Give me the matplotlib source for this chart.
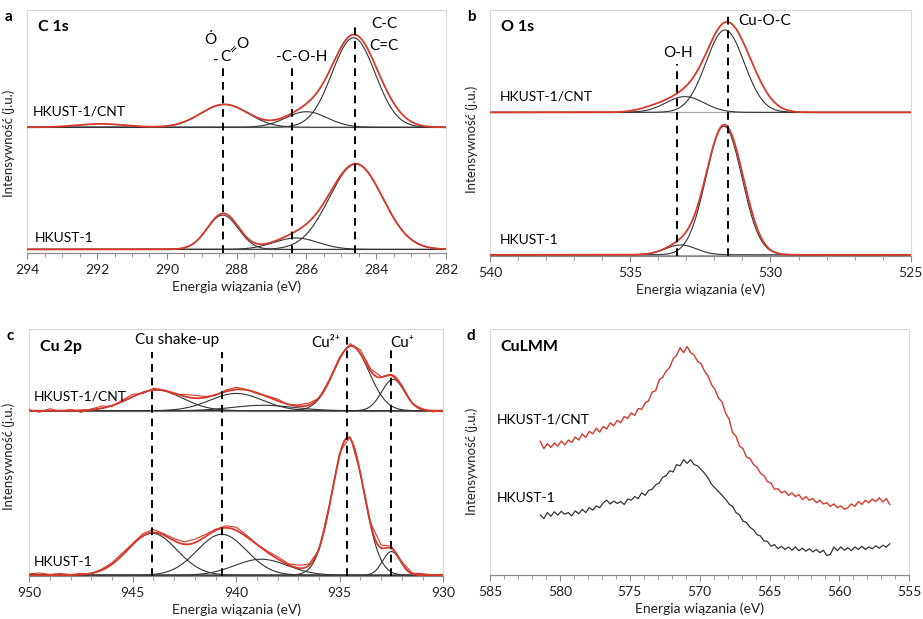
import numpy as np
import matplotlib.pyplot as plt
from matplotlib.ticker import MultipleLocator

plt.rcParams['font.family'] = ['Lato', 'DejaVu Sans']

RED = '#d8392b'
FIT = '#333333'
GRAY = '#a6a6a6'

# ---- panel a: C 1s  (peaks: centre eV, height, FWHM) ----
c1s_cnt_base = 51.8
c1s_cnt_peaks = [(288.35, 9.4, 1.6), (286.0, 6.4, 1.4), (284.65, 36.8, 1.45)]
c1s_cnt_extra = [(291.9, 1.4, 1.6), (283.75, 4.0, 1.2)]
c1s_hk_base = 1.6
c1s_hk_peaks = [(288.4, 14.1, 1.05), (286.3, 4.7, 1.5), (284.58, 35.1, 1.8)]
c1s_hk_extra = [(288.2, 0.8, 0.8)]
c1s_lines = [(288.4, 76.0), (286.4, 76.0), (284.6, 94.2)]

# ---- panel b: O 1s ----
o1s_cnt_base = 58.4
o1s_cnt_peaks = [(533.05, 6.4, 1.6), (531.62, 33.5, 1.6)]
o1s_cnt_extra = [(530.7, 8.0, 1.4), (534.2, 1.5, 1.3)]
o1s_hk_base = 0.5
o1s_hk_peaks = [(533.2, 4.0, 1.3), (531.66, 52.3, 1.5)]
o1s_hk_extra = [(530.9, 2.5, 1.0)]
o1s_lines = [(533.33, 78.0), (531.53, 97.6)]

# ---- panel c: Cu 2p ----
cu_cnt_base = 67.0
cu_cnt_peaks = [(943.87, 8.4, 3.0), (940.0, 7.0, 3.0), (938.7, 2.2, 3.5),
                (934.44, 26.2, 2.0), (932.42, 12.7, 1.3)]
cu_hk_base = 0.3
cu_hk_peaks = [(944.06, 17.0, 2.8), (940.7, 16.6, 2.8), (938.8, 6.5, 3.0),
               (934.6, 55.9, 1.8), (932.5, 9.6, 1.0)]
cu_lines = [(944.06, 90.9), (940.68, 90.9), (934.65, 98.4), (932.5, 91.6)]
# measured minus fit, on a 0.5 eV grid 950 -> 930
cu_grid = np.arange(950.0, 929.9, -0.5)
cu_cnt_resid = [0.4, -0.6, 0.8, -0.3, 0.5, -0.8, 0.3, 0.9, -0.4, 0.6,
                1.0, -0.5, 0.7, 0.2, -0.6, 0.8, 1.1, 0.4, -0.3, 0.6,
                0.9, 0.2, -0.4, 0.3, 0.7, -0.2, 0.5, 0.8, -0.3, 0.4,
                0.6, 1.0, 1.5, 0.8, 0.3, -0.2, 0.5, -0.4, 0.3, -0.5, 0.2]
cu_hk_resid = [0.6, 0.9, 0.3, 0.7, 0.2, 0.5, -0.2, 0.4, 0.6, 0.8,
               0.5, 0.9, 1.2, 0.6, 0.8, 1.0, 1.4, 0.9, 0.5, 0.8,
               1.3, 0.7, 0.2, 0.5, 0.9, 0.4, 1.1, 0.6, -0.8, 0.4,
               1.0, 0.8, 0.4, 0.6, 1.2, 0.9, 0.5, 0.3, 0.6, 0.2, 0.4]

# ---- panel d: Cu LMM ----
lmm_energy = np.arange(581.4, 556.3, -0.25)
lmm_cnt = [54.5, 51.5, 53.5, 52.0, 53.8, 52.5, 54.6, 53.0, 55.0, 54.0,
           56.2, 55.0, 57.5, 56.0, 58.5, 57.5, 59.8, 58.2, 60.5, 59.5,
           62.0, 60.8, 63.0, 62.0, 64.5, 63.8, 66.0, 65.0, 67.8, 67.5,
           70.0, 71.0, 74.5, 75.0, 79.5, 80.5, 83.0, 84.5, 88.0, 89.5,
           92.5, 90.5, 93.0, 90.5, 89.5, 87.0, 86.0, 83.0, 81.0, 77.5,
           75.5, 72.0, 70.5, 66.0, 63.5, 58.0, 56.5, 52.5, 51.5, 48.0,
           47.5, 45.0, 44.0, 41.5, 40.5, 38.0, 37.5, 35.0, 35.2, 33.5,
           34.2, 32.5, 33.5, 32.0, 32.8, 30.8, 32.0, 30.5, 31.2, 29.5,
           30.5, 29.0, 29.5, 28.0, 29.0, 27.5, 28.2, 26.8, 27.5, 29.0,
           28.0, 30.0, 28.8, 30.5, 29.5, 31.0, 30.0, 31.5, 29.8, 31.2, 28.8]
lmm_hk = [24.5, 23.0, 25.5, 24.0, 25.8, 24.5, 26.0, 24.8, 25.5, 24.2,
          26.2, 25.0, 26.8, 25.5, 27.5, 26.5, 28.2, 27.5, 29.5, 30.5,
          29.0, 30.2, 29.2, 30.0, 28.8, 31.0, 30.5, 32.0, 31.2, 33.5,
          32.5, 34.5, 35.0, 36.8, 37.5, 39.8, 40.5, 42.5, 42.0, 45.0,
          44.5, 47.0, 45.5, 47.0, 45.0, 44.5, 43.0, 41.5, 39.5, 37.0,
          35.5, 34.0, 32.5, 31.0, 29.0, 28.0, 25.5, 24.5, 22.0, 21.5,
          19.5, 18.5, 16.5, 16.0, 14.0, 13.8, 11.8, 12.5, 10.8, 11.8,
          10.5, 11.5, 10.2, 11.5, 10.0, 11.0, 9.8, 10.8, 9.5, 10.5,
          9.2, 10.2, 8.0, 8.5, 11.5, 10.0, 11.5, 10.2, 11.2, 10.0,
          11.5, 10.5, 11.8, 10.5, 11.5, 10.8, 12.0, 11.0, 12.2, 11.5, 12.8]


def gauss(x, c, h, w):
    return h * np.exp(-4 * np.log(2) * (x - c) ** 2 / w ** 2)


def spectrum(ax, x, base, peaks, extra=(), data=None):
    ax.axhline(base, color=GRAY, lw=0.9, zorder=1)
    env = np.full_like(x, base)
    for c, h, w in peaks:
        y = gauss(x, c, h, w)
        env += y
        ax.plot(x, base + y, color=FIT, lw=0.8, zorder=2)
    for c, h, w in extra:
        env += gauss(x, c, h, w)
    ax.plot(x, env, color=RED, lw=1.3, zorder=3)
    if data is not None:
        xd, resid = data
        yd = np.full_like(xd, base)
        for c, h, w in peaks:
            yd += gauss(xd, c, h, w)
        ax.plot(xd, yd + np.array(resid), color=RED, lw=0.8, zorder=3)


def style(ax, xlim, major, minor, letter, title):
    ax.set_xlim(*xlim)
    ax.set_ylim(0, 100)
    ax.set_yticks([])
    for s in ['top', 'right', 'left']:
        ax.spines[s].set_color('#d9d9d9')
        ax.spines[s].set_linewidth(0.8)
    ax.spines['bottom'].set_color('#8c8c8c')
    ax.spines['bottom'].set_linewidth(0.9)
    ax.xaxis.set_major_locator(MultipleLocator(major))
    ax.xaxis.set_minor_locator(MultipleLocator(minor))
    ax.tick_params(axis='x', which='both', direction='out', color='#8c8c8c',
                   labelsize=10, pad=4, colors='#8c8c8c', labelcolor='#222222')
    ax.tick_params(axis='x', which='major', length=4)
    ax.tick_params(axis='x', which='minor', length=3)
    ax.set_xlabel('Energia wiązania (eV)', fontsize=10, labelpad=3, color='#222222')
    ax.set_ylabel('Intensywność (j.u.)', fontsize=9.5, color='#222222')
    ax.text(-0.045, 1.0, letter, transform=ax.transAxes, fontsize=11,
            fontweight='bold', ha='center', va='top')
    ax.text(0.025, 0.93, title, transform=ax.transAxes, fontsize=11.5,
            fontweight='bold', va='center')


def vlines(ax, lines):
    for x, top in lines:
        ax.plot([x, x], [0, top], color='black', lw=1.4, ls=(0, (4, 3)), zorder=4)


fig = plt.figure(figsize=(9.23, 6.19), dpi=100)
ax_a = fig.add_axes([0.0296, 0.5908, 0.4536, 0.393])
ax_b = fig.add_axes([0.5309, 0.5864, 0.4558, 0.3974])
ax_c = fig.add_axes([0.0317, 0.0695, 0.4485, 0.3985])
ax_d = fig.add_axes([0.5309, 0.0706, 0.4543, 0.3974])

fs = 10

# a
x = np.linspace(294, 282, 800)
spectrum(ax_a, x, c1s_cnt_base, c1s_cnt_peaks, c1s_cnt_extra)
spectrum(ax_a, x, c1s_hk_base, c1s_hk_peaks, c1s_hk_extra)
vlines(ax_a, c1s_lines)
style(ax_a, (294, 282), 2, 0.5, 'a', 'C 1s')
ax_a.yaxis.set_label_coords(-0.03, 0.45)
ax_a.text(293.85, 58.1, 'HKUST-1/CNT', fontsize=fs, va='center')
ax_a.text(293.8, 6.3, 'HKUST-1', fontsize=fs, va='center')
ax_a.text(286.14, 80.7, '-C-O-H', fontsize=11, ha='center', va='center')
ax_a.text(283.78, 94.2, 'C-C', fontsize=11, ha='center', va='center')
ax_a.text(283.78, 85.2, 'C=C', fontsize=11, ha='center', va='center')
# carboxylate sketch
ax_a.text(288.74, 87.5, 'Ȯ', fontsize=11, ha='center', va='center')
ax_a.text(288.6, 79.0, '-', fontsize=11, ha='center', va='center')
ax_a.text(288.33, 80.6, 'C', fontsize=11, ha='center', va='center')
ax_a.text(288.08, 84.0, '=', fontsize=10, ha='center', va='center', rotation=45)
ax_a.text(287.84, 86.2, 'O', fontsize=11, ha='center', va='center')

# b
x = np.linspace(540, 525, 800)
spectrum(ax_b, x, o1s_cnt_base, o1s_cnt_peaks, o1s_cnt_extra)
spectrum(ax_b, x, o1s_hk_base, o1s_hk_peaks, o1s_hk_extra)
vlines(ax_b, o1s_lines)
style(ax_b, (540, 525), 5, 1, 'b', 'O 1s')
ax_b.yaxis.set_label_coords(-0.029, 0.476)
ax_b.text(539.64, 64.8, 'HKUST-1/CNT', fontsize=fs, va='center')
ax_b.text(539.64, 6.5, 'HKUST-1', fontsize=fs, va='center')
ax_b.text(533.3, 82.6, 'O-H', fontsize=11, ha='center', va='center')
ax_b.text(530.2, 95.6, 'Cu-O-C', fontsize=11, ha='center', va='center')

# c
x = np.linspace(950, 930, 800)
spectrum(ax_c, x, cu_cnt_base, cu_cnt_peaks, data=(cu_grid, cu_cnt_resid))
spectrum(ax_c, x, cu_hk_base, cu_hk_peaks, data=(cu_grid, cu_hk_resid))
vlines(ax_c, cu_lines)
style(ax_c, (950, 930), 5, 1, 'c', 'Cu 2p')
ax_c.yaxis.set_label_coords(-0.035, 0.484)
ax_c.text(949.77, 72.7, 'HKUST-1/CNT', fontsize=fs, va='center')
ax_c.text(949.77, 5.8, 'HKUST-1', fontsize=fs, va='center')
ax_c.text(942.88, 95.7, 'Cu shake-up', fontsize=11, ha='center', va='center')
ax_c.text(935.67, 94.6, 'Cu²⁺', fontsize=11, ha='center', va='center')
ax_c.text(932.0, 94.6, 'Cu⁺', fontsize=11, ha='center', va='center')

# d
ax_d.plot(lmm_energy, lmm_cnt, color=RED, lw=1.0)
ax_d.plot(lmm_energy, lmm_hk, color='#333333', lw=0.9)
style(ax_d, (585, 555), 5, 1, 'd', 'CuLMM')
ax_d.yaxis.set_label_coords(-0.029, 0.465)
ax_d.text(584.52, 63.5, 'HKUST-1/CNT', fontsize=fs, va='center')
ax_d.text(584.52, 31.4, 'HKUST-1', fontsize=fs, va='center')

fig.savefig('out.png', dpi=100)
